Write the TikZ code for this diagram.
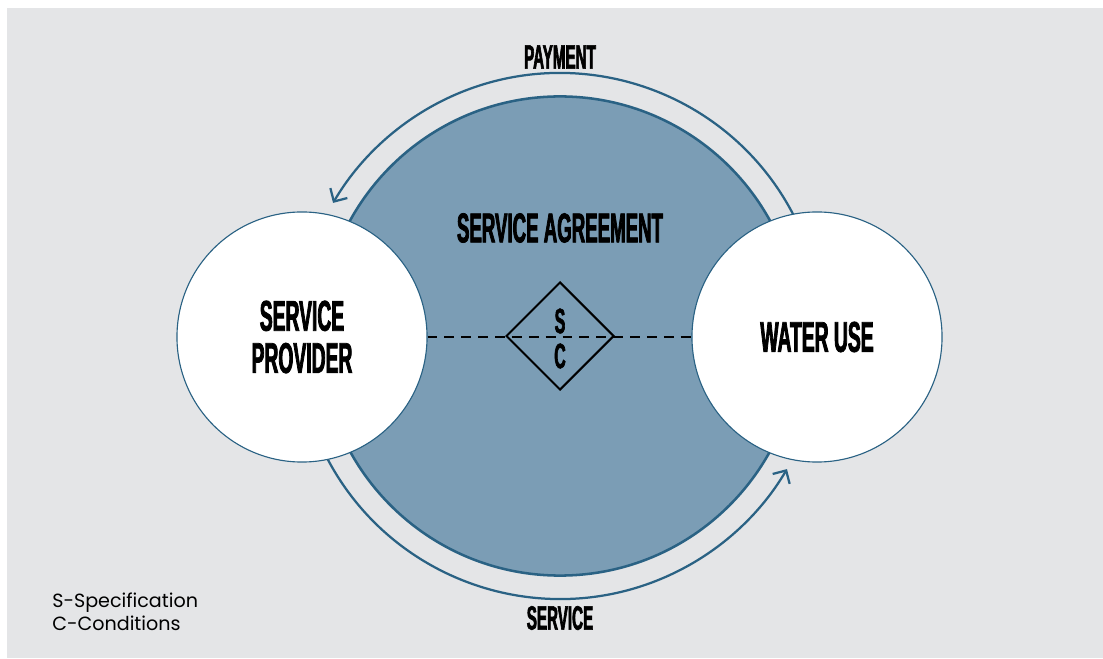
\documentclass[tikz,border=0pt]{standalone}
\usepackage{fontspec}
\setmainfont{Poppins}
\newfontfamily\headfont[FakeStretch=0.45,FakeBold=1.8]{Liberation Sans}
\usetikzlibrary{arrows.meta,shapes.geometric,calc}
\definecolor{bg}{RGB}{228,229,231}
\definecolor{edge}{RGB}{42,98,132}
\definecolor{pool}{RGB}{123,157,181}

\begin{document}
\begin{tikzpicture}[x=0.025cm, y=0.025cm, >={Straight Barb[length=7pt,width=14pt]}]
\tikzstyle{every node}=[inner sep=0pt]
\tikzstyle{party}=[circle, draw=edge, line width=0.8pt, fill=white, minimum size=6.25cm]
\tikzstyle{head}=[font=\headfont\bfseries\fontsize{30.5}{30}\selectfont, align=center]
\tikzstyle{small head}=[font=\headfont\bfseries\fontsize{24}{24}\selectfont]
\tikzstyle{letter}=[font=\headfont\bfseries\fontsize{25}{25}\selectfont]
\tikzstyle{flow}=[draw=edge, line width=1.6pt, ->]
\tikzstyle{legend}=[anchor=base west, font=\fontsize{13.6}{16}\selectfont]

\fill[white] (0,0) rectangle (1103,658);
\fill[bg] (7,0) rectangle (1103,650);
\useasboundingbox (0,0) rectangle (1103,658);

\node[circle, fill=pool, draw=edge, line width=1.8pt, minimum size=11.975cm] (agreement) at (560,322) {};

% payment on top, service below
\coordinate (payfrom) at ($(agreement.center)+(26.5:263)$);
\coordinate (servefrom) at ($(agreement.center)+(207.5:263)$);
\draw[flow] (payfrom) arc[start angle=26.5, end angle=149.6, radius=6.575cm];
\draw[flow] (servefrom) arc[start angle=207.5, end angle=329.6, radius=6.575cm];

\node[party, head] (provider) at (302,321) {SERVICE\\PROVIDER};
\node[party, head] (wateruse) at (817,321) {WATER USE};

\draw[black, line width=1.5pt, dash pattern=on 7pt off 5pt] (provider.east) -- (wateruse.west);
\node[diamond, draw=black, line width=1.4pt, minimum size=2.7cm, aspect=1] (sc) at (560,322) {};
\node[letter] (s) at (560,337) {S};
\node[letter] (c) at (560,302) {C};

\node[head, font=\headfont\bfseries\fontsize{29.5}{30}\selectfont] (title) at (560,430) {SERVICE AGREEMENT};
\node[small head] (payment) at (560,601) {PAYMENT};
\node[small head] (service) at (560,40) {SERVICE};

\node[legend] (legs) at (52,51) {S-Specification};
\node[legend] (legc) at (52,28) {C-Conditions};
\end{tikzpicture}
\end{document}
